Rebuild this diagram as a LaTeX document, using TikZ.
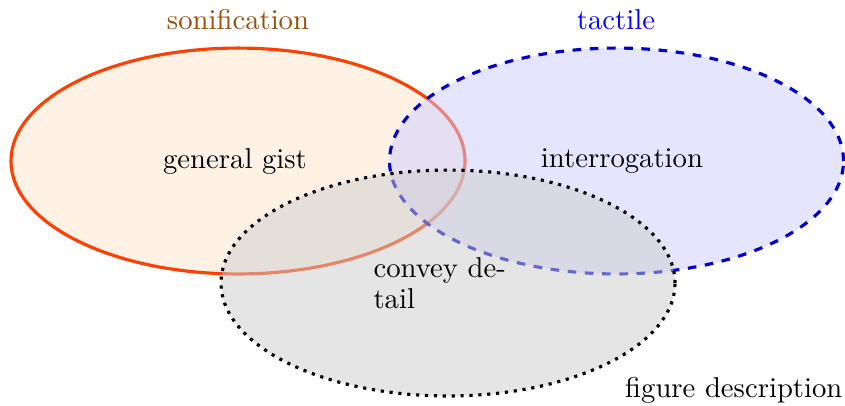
\documentclass[tikz,border=0pt]{standalone}
\usetikzlibrary{shapes.geometric}
\definecolor{sonline}{RGB}{255,64,0}
\definecolor{sontext}{RGB}{150,78,10}
\definecolor{tacline}{RGB}{0,0,204}
\begin{document}
\begin{tikzpicture}[x=0.3484pt,y=-0.3484pt,
  region/.style={ellipse, inner sep=0pt, minimum width=158.2pt, minimum height=78.7pt, line width=1.1pt, fill opacity=0.5, draw opacity=1},
  lbl/.style={inner sep=0pt, font=\normalsize}]
\useasboundingbox (0,0) rectangle (845,405);
\node[region, draw=sonline, fill=orange!20] (son) at (238,161) {};
\node[region, draw=tacline, fill=blue!20, dashed] (tac) at (616.5,161) {};
\node[region, draw=black, fill=black!20, dotted] (fig) at (448,283) {};
\node[lbl, text=sontext] (sonl) at (238,20) {sonification};
\node[lbl, text=blue] (tacl) at (616,20) {tactile};
\node[lbl] (gist) at (235,161) {general gist};
\node[lbl] (inter) at (622,161) {interrogation};
\node[lbl, anchor=base west, align=left] (detail) at (373,308) {convey de-\\[-1.2pt]tail};
\node[lbl, anchor=base east] (figl) at (843,397) {figure description};
\end{tikzpicture}
\end{document}
